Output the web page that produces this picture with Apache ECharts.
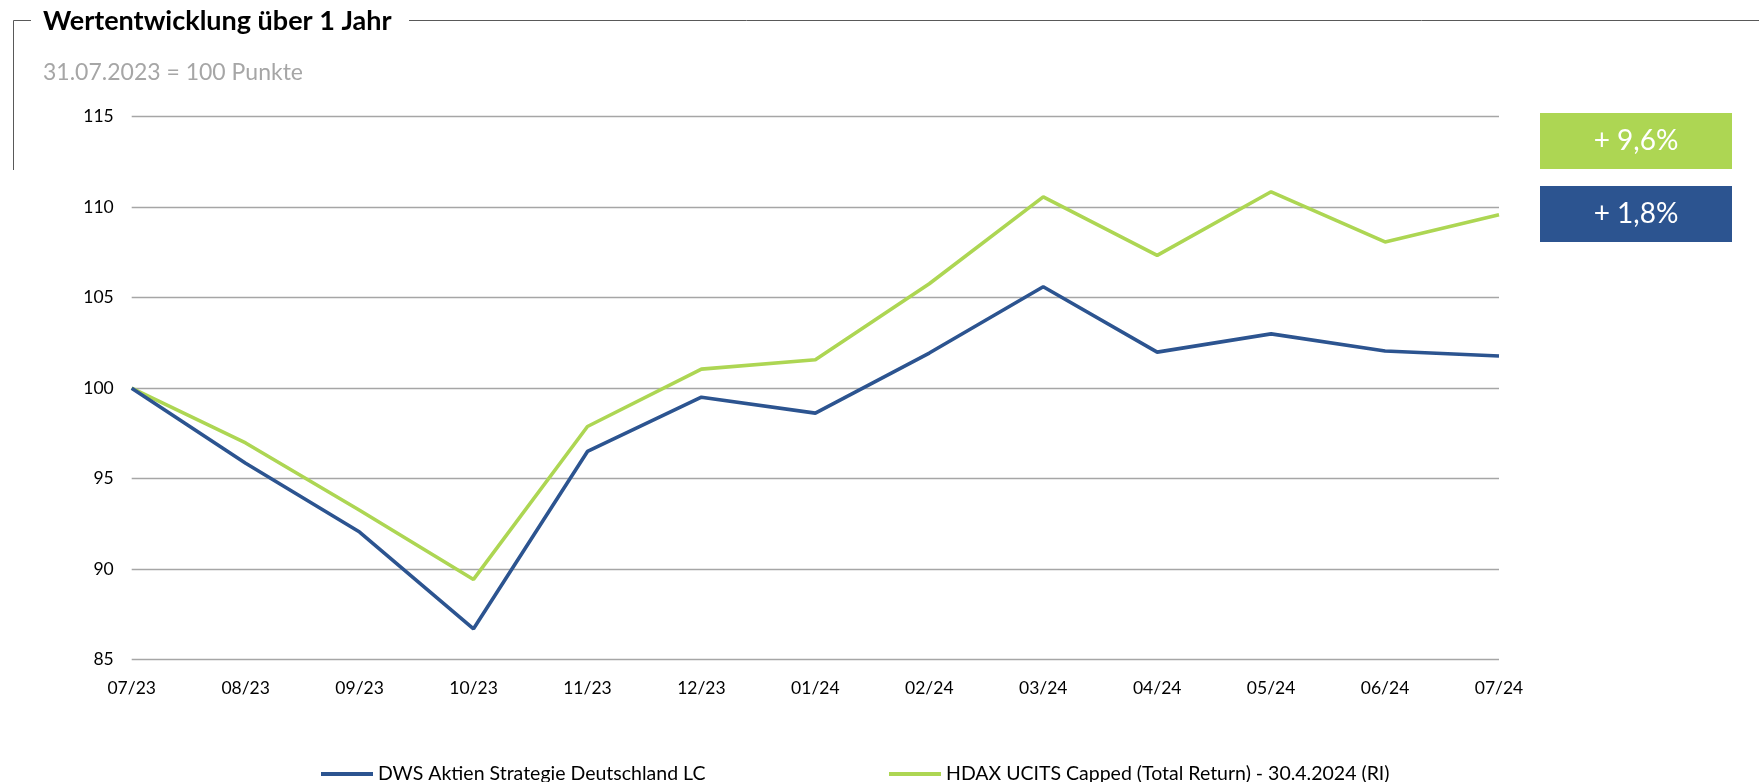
<!DOCTYPE html>
<html>
<head>
<meta charset="utf-8">
<script src="https://cdn.jsdelivr.net/npm/echarts@6/dist/echarts.min.js"></script>
<style>
html,body{margin:0;padding:0;background:#fff;}
#c{width:1759px;height:782px;}
</style>
</head>
<body>
<div id="c"></div>
<script>
var categories = ['07/23','08/23','09/23','10/23','11/23','12/23','01/24','02/24','03/24','04/24','05/24','06/24','07/24'];
var dwsValues = [100, 95.85, 92.05, 86.7, 96.5, 99.5, 98.62, 101.94, 105.6, 101.99, 103.0, 102.05, 101.78];
var hdaxValues = [100, 96.97, 93.25, 89.43, 97.88, 101.05, 101.57, 105.77, 110.57, 107.34, 110.85, 108.08, 109.58];
var seriesNames = ['DWS Aktien Strategie Deutschland LC', 'HDAX UCITS Capped (Total Return) - 30.4.2024 (RI)'];
var perfLabels = ['+ 9,6%', '+ 1,8%'];
var titleText = 'Wertentwicklung über 1 Jahr';
var subtitleText = '31.07.2023 = 100 Punkte';

var BLUE = '#2C5490';
var GREEN = '#ADD653';
var FONT = 'Lato, "Open Sans", sans-serif';

var chart = echarts.init(document.getElementById('c'), null, {renderer: 'canvas'});
chart.setOption({
  backgroundColor: '#ffffff',
  animation: false,
  textStyle: {fontFamily: FONT},
  title: [
    {text: titleText, left: 38, top: 3, textStyle: {fontFamily: FONT, fontWeight: 'bold', fontSize: 27, color: '#000'}},
    {text: subtitleText, left: 38, top: 56, textStyle: {fontFamily: FONT, fontWeight: 'normal', fontSize: 23, color: '#a6a6a6'}}
  ],
  grid: {left: 131.7, right: 260, top: 116.7, bottom: 122.4, containLabel: false},
  xAxis: {
    type: 'category',
    data: categories,
    boundaryGap: false,
    axisLine: {show: false},
    axisTick: {show: false},
    axisLabel: {color: '#000', fontSize: 17.5, fontFamily: FONT, margin: 20}
  },
  yAxis: {
    type: 'value',
    min: 85, max: 115, interval: 5,
    axisLine: {show: false},
    axisTick: {show: false},
    axisLabel: {color: '#000', fontSize: 17.5, fontFamily: FONT, margin: 18},
    splitLine: {show: true, lineStyle: {color: '#a6a6a6', width: 1.3}}
  },
  legend: [
    {data: [seriesNames[0]], left: 316, top: 759, icon: 'rect', itemWidth: 52, itemHeight: 4, itemGap: 0,
     textStyle: {fontSize: 19.5, color: '#000', fontFamily: FONT}},
    {data: [seriesNames[1]], left: 884, top: 759, icon: 'rect', itemWidth: 52, itemHeight: 4, itemGap: 0,
     textStyle: {fontSize: 19.5, color: '#000', fontFamily: FONT}}
  ],
  series: [
    {name: seriesNames[0], type: 'line', data: dwsValues, symbol: 'none', color: BLUE,
     lineStyle: {color: BLUE, width: 3.6}, z: 3},
    {name: seriesNames[1], type: 'line', data: hdaxValues, symbol: 'none', color: GREEN,
     lineStyle: {color: GREEN, width: 3.6}, z: 2}
  ],
  graphic: [
    {type: 'polyline', shape: {points: [[31, 20.5], [13.5, 20.5], [13.5, 170]]}, style: {stroke: '#595959', lineWidth: 1, fill: null}},
    {type: 'line', shape: {x1: 409, y1: 20.5, x2: 1759, y2: 20.5}, style: {stroke: '#595959', lineWidth: 1}},
    {type: 'rect', shape: {x: 1540, y: 113, width: 192, height: 56}, style: {fill: GREEN}},
    {type: 'text', x: 1636, y: 141, style: {text: perfLabels[0], fill: '#fff', font: '28px ' + FONT, align: 'center', verticalAlign: 'middle'}},
    {type: 'rect', shape: {x: 1540, y: 186, width: 192, height: 56}, style: {fill: BLUE}},
    {type: 'text', x: 1636, y: 214, style: {text: perfLabels[1], fill: '#fff', font: '28px ' + FONT, align: 'center', verticalAlign: 'middle'}}
  ]
});
</script>
</body>
</html>
